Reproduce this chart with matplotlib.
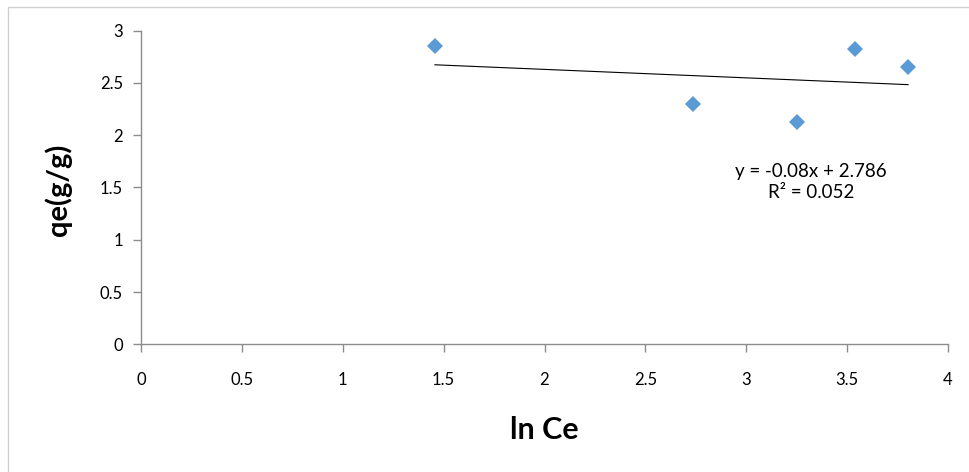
import matplotlib
matplotlib.use("Agg")
import matplotlib.pyplot as plt
import numpy as np
from matplotlib.patches import Rectangle
from matplotlib.ticker import FuncFormatter, MultipleLocator

# Data
ln_ce = [1.457, 2.736, 3.252, 3.539, 3.802]
qe = [2.855, 2.300, 2.127, 2.826, 2.654]
x_label = "ln Ce"
y_label = "qe(g/g)"
equation_text = "y = -0.08x + 2.786\nR\u00b2 = 0.052"

plt.rcParams['font.family'] = ['Lato', 'DejaVu Sans']

fig = plt.figure(figsize=(9.69, 4.72), dpi=100)
fig.patch.set_facecolor('white')
# chart border (right/bottom edges fall outside the image)
fig.patches.append(Rectangle((8/969, -0.05), 1.2, (472-7)/472 + 0.05,
                             transform=fig.transFigure, fill=False,
                             edgecolor='#d0d0d0', linewidth=1.0))

ax = fig.add_axes([141/969, 1-344.3/472, (948-141)/969, (344.3-30.7)/472])

ax.plot(ln_ce, qe, linestyle='none', marker='D', markersize=8,
        color='#5B9BD5', markeredgewidth=0, zorder=3)

coef = np.polyfit(ln_ce, qe, 1)
xs = np.array([min(ln_ce), max(ln_ce)])
ax.plot(xs, np.polyval(coef, xs), color='black', linewidth=0.8, zorder=2)

ax.text(3.32, 1.55, equation_text, ha='center', va='center', fontsize=13.5,
        color='black', linespacing=1.3)

ax.set_xlim(0, 4)
ax.set_ylim(0, 3)
ax.xaxis.set_major_locator(MultipleLocator(0.5))
ax.yaxis.set_major_locator(MultipleLocator(0.5))
fmt = FuncFormatter(lambda v, p: f"{v:g}")
ax.xaxis.set_major_formatter(fmt)
ax.yaxis.set_major_formatter(fmt)

for s in ['top', 'right']:
    ax.spines[s].set_visible(False)
for s in ['left', 'bottom']:
    ax.spines[s].set_color('#8c8c8c')
    ax.spines[s].set_linewidth(1.0)

ax.tick_params(axis='both', direction='out', length=6, width=1.0,
               color='#8c8c8c', labelsize=12, labelcolor='black')
ax.tick_params(axis='x', pad=14)
ax.tick_params(axis='y', pad=7)

ax.set_xlabel(x_label, fontsize=22, fontweight='bold')
ax.set_ylabel(y_label, fontsize=21, fontweight='bold')
ax.xaxis.set_label_coords((544-141)/(948-141), -(430-344.3)/(344.3-30.7))
ax.yaxis.set_label_coords(-(141-58)/(948-141), (344.3-190)/(344.3-30.7))
ax.xaxis.label.set_va('center')
ax.yaxis.label.set_va('center')

fig.savefig("out.png", dpi=100, facecolor='white')
